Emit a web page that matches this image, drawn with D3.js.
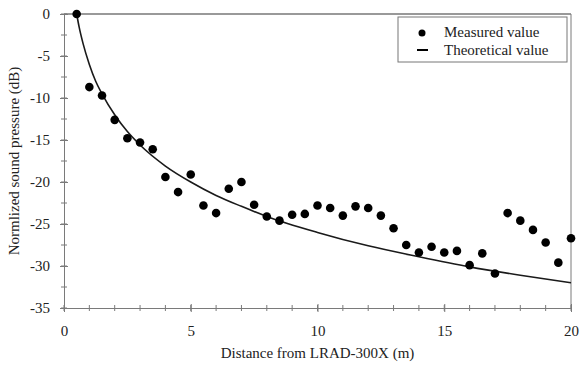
<!DOCTYPE html>
<html>
<head>
<meta charset="utf-8">
<script src="https://cdn.jsdelivr.net/npm/d3@7"></script>
<style>
  body { margin: 0; background: #fff; }
</style>
</head>
<body>
<script>
// measured points (distance m, dB)
var measuredX = [0.5, 1, 1.5, 2, 2.5, 3, 3.5, 4, 4.5, 5, 5.5, 6, 6.5, 7, 7.5, 8, 8.5, 9, 9.5, 10,
  10.5, 11, 11.5, 12, 12.5, 13, 13.5, 14, 14.5, 15, 15.5, 16, 16.5, 17, 17.5, 18, 18.5, 19, 19.5, 20]
var measuredY = [0, -8.7, -9.7, -12.6, -14.8, -15.3, -16.1, -19.4, -21.2, -19.1, -22.8, -23.7, -20.8, -20.0, -22.7, -24.1, -24.6, -23.9, -23.8, -22.8,
  -23.1, -24.0, -22.9, -23.1, -24.0, -25.5, -27.5, -28.4, -27.7, -28.4, -28.2, -29.9, -28.5, -30.9, -23.7, -24.6, -25.7, -27.2, -29.6, -26.7]

// theoretical curve
var theoryX = [0.5, 0.6, 0.75, 1, 1.25, 1.5, 2, 2.5, 3, 4, 5, 6, 7, 8, 10, 12, 14, 16, 18, 20]
var theoryY = [0, -1.6, -3.5, -6.0, -8.0, -9.5, -12.0, -14.0, -15.6, -18.1, -20.0, -21.6, -22.9, -24.1, -26.0, -27.6, -28.9, -30.1, -31.1, -32.0]

var xTicks = [0, 5, 10, 15, 20]
var yTicks = [0, -5, -10, -15, -20, -25, -30, -35]
var legendLabels = ["Measured value", "Theoretical value"]

var width = 586, height = 369
var margin = { top: 14, right: 15, bottom: 61, left: 64 }
var axisColor = "#7a7a7a"
var fontFam = "Liberation Serif"

var svg = d3.select("body").append("svg")
  .attr("width", width)
  .attr("height", height)

var x = d3.scaleLinear().domain([0, 20]).range([margin.left, width - margin.right])
var y = d3.scaleLinear().domain([-35, 0]).range([height - margin.bottom, margin.top])

// frame top + right
svg.append("line")
  .attr("x1", x(0)).attr("x2", x(20)).attr("y1", y(0)).attr("y2", y(0))
  .attr("stroke", "#999").attr("stroke-width", 2)
svg.append("line")
  .attr("x1", x(20)).attr("x2", x(20)).attr("y1", y(0)).attr("y2", y(-35))
  .attr("stroke", axisColor).attr("stroke-width", 1)

// minor ticks (cross the axis)
var xMinor = d3.range(0, 21, 1)
svg.append("g").selectAll("line").data(xMinor).enter().append("line")
  .attr("x1", d => x(d)).attr("x2", d => x(d))
  .attr("y1", y(-35) - 3).attr("y2", y(-35) + 3)
  .attr("stroke", axisColor)
var yMinor = d3.range(-35, 0.1, 2.5)
svg.append("g").selectAll("line").data(yMinor).enter().append("line")
  .attr("x1", x(0) - 3).attr("x2", x(0) + 3)
  .attr("y1", d => y(d)).attr("y2", d => y(d))
  .attr("stroke", axisColor)

var ejeX = d3.axisBottom(x).tickValues(xTicks).tickSize(4).tickPadding(13)
  .tickFormat(d => String(d))
var gx = svg.append("g")
  .attr("transform", "translate(0," + y(-35) + ")")
  .call(ejeX)
gx.select(".domain").attr("stroke", axisColor)
gx.selectAll(".tick line").attr("stroke", axisColor).attr("y1", -4)

var ejeY = d3.axisLeft(y).tickValues(yTicks).tickSize(4).tickPadding(10)
  .tickFormat(d => String(d))
var gy = svg.append("g")
  .attr("transform", "translate(" + x(0) + ",0)")
  .call(ejeY)
gy.select(".domain").attr("stroke", axisColor)
gy.selectAll(".tick line").attr("stroke", axisColor).attr("x1", 4)

// axis titles
svg.append("text")
  .attr("x", (x(0) + x(20)) / 2).attr("y", 358)
  .attr("text-anchor", "middle")
  .text("Distance from LRAD-300X (m)")
svg.append("text")
  .attr("transform", "translate(19," + ((y(0) + y(-35)) / 2) + ") rotate(-90)")
  .attr("text-anchor", "middle")
  .text("Normlized sound pressure (dB)")

// theoretical curve
var theory = theoryX.map((d, i) => ({ x: d, y: theoryY[i] }))
svg.append("path")
  .datum(theory)
  .attr("fill", "none")
  .attr("stroke", "#1a1a1a")
  .attr("stroke-width", 1.6)
  .attr("d", d3.line()
    .curve(d3.curveMonotoneX)
    .x(d => x(d.x))
    .y(d => y(d.y)))

// measured points
var measured = measuredX.map((d, i) => ({ x: d, y: measuredY[i] }))
svg.append("g").selectAll("circle").data(measured).enter().append("circle")
  .attr("cx", d => x(d.x))
  .attr("cy", d => y(d.y))
  .attr("r", 4.3)
  .attr("fill", "#000")

// legend
var lg = svg.append("g")
lg.append("rect")
  .attr("x", 398).attr("y", 17).attr("width", 169).attr("height", 45)
  .attr("fill", "#fff").attr("stroke", "#777").attr("stroke-width", 1)
lg.append("circle").attr("cx", 422).attr("cy", 33).attr("r", 3.5).attr("fill", "#000")
lg.append("line").attr("x1", 417).attr("x2", 428).attr("y1", 50).attr("y2", 50)
  .attr("stroke", "#000").attr("stroke-width", 2)
lg.selectAll("text.lab").data(legendLabels).enter().append("text")
  .attr("class", "lab")
  .attr("x", 444)
  .attr("y", (d, i) => 37 + i * 18)
  .text(d => d)

// same serif face on every label
svg.selectAll("text")
  .style("font-family", fontFam)
  .style("font-size", "15px")
  .attr("fill", "#222")
</script>
</body>
</html>
